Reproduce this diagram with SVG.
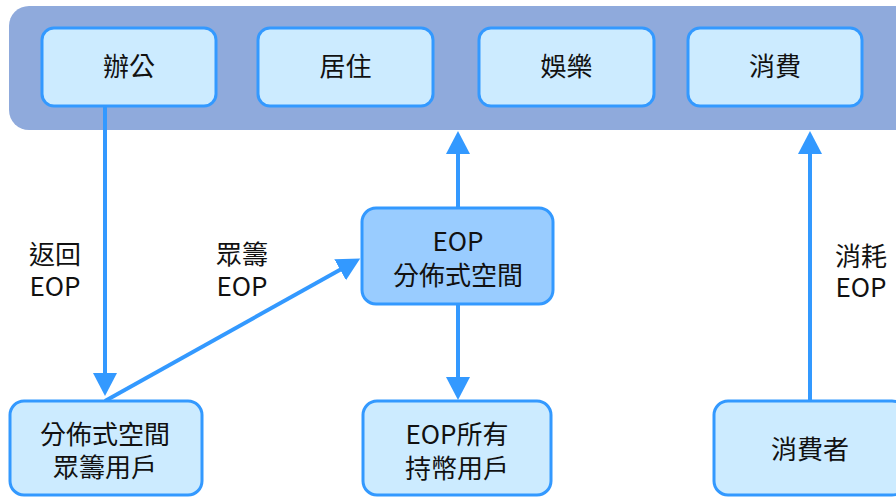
<svg xmlns="http://www.w3.org/2000/svg" width="896" height="497" viewBox="0 0 896 497">
<defs>
<style>
.box{fill:#CCEBFF;stroke:#3399FF;stroke-width:3}
.hub{fill:#99CCFF;stroke:#3399FF;stroke-width:3}
.t{font-family:"Noto Sans CJK TC","Noto Sans CJK SC",sans-serif;font-size:26px;fill:#111;text-anchor:middle;dominant-baseline:central}
.c{stroke:#3399FF;stroke-width:4;fill:none}
</style>
<marker id="ah" markerUnits="userSpaceOnUse" markerWidth="24" markerHeight="26" viewBox="0 -13 24 26" refX="1" refY="0" orient="auto">
<path d="M0,-12 L23,0 L0,12 z" fill="#3399FF"/>
</marker>
</defs>
<rect x="0" y="0" width="896" height="497" fill="#FFFFFF"/>
<g id="band">
<rect x="9" y="6" width="905" height="124" rx="20" fill="#8FAADC"/>
</g>
<g id="n-office"><rect class="box" x="42" y="28" width="174" height="78" rx="12"/><text class="t" x="129" y="64.5">辦公</text></g>
<g id="n-living"><rect class="box" x="258" y="28" width="175" height="78" rx="12"/><text class="t" x="345.5" y="64.5">居住</text></g>
<g id="n-ent"><rect class="box" x="479" y="28" width="175" height="78" rx="12"/><text class="t" x="566.5" y="64.5">娛樂</text></g>
<g id="n-consume"><rect class="box" x="688" y="28" width="174" height="78" rx="12"/><text class="t" x="775" y="64.5">消費</text></g>
<g id="connectors">
<line class="c" x1="105" y1="106" x2="105" y2="374" marker-end="url(#ah)"/>
<line class="c" x1="105" y1="401" x2="341" y2="269.2" marker-end="url(#ah)"/>
<line class="c" x1="458" y1="208" x2="458" y2="153" marker-end="url(#ah)"/>
<line class="c" x1="458" y1="304" x2="458" y2="378" marker-end="url(#ah)"/>
<line class="c" x1="810" y1="401" x2="810" y2="153" marker-end="url(#ah)"/>
</g>
<g id="labels">
<text class="t" x="55" y="252.5">返回<tspan x="55" dy="31">EOP</tspan></text>
<text class="t" x="242" y="252.5">眾籌<tspan x="242" dy="31">EOP</tspan></text>
<text class="t" x="861" y="254.5">消耗<tspan x="861" dy="30">EOP</tspan></text>
</g>
<g id="n-hub"><rect class="hub" x="362" y="208" width="191" height="96" rx="14"/><text class="t" x="458" y="239.5">EOP<tspan x="458" dy="33">分佈式空間</tspan></text></g>
<g id="n-crowd"><rect class="box" x="10" y="401" width="192" height="94" rx="14"/><text class="t" x="105" y="432.5">分佈式空間<tspan x="105" dy="32">眾籌用戶</tspan></text></g>
<g id="n-holders"><rect class="box" x="363" y="401" width="188" height="94" rx="14"/><text class="t" x="457" y="432.5">EOP所有<tspan x="457" dy="33">持幣用戶</tspan></text></g>
<g id="n-consumer"><rect class="box" x="714" y="401" width="192" height="94" rx="14"/><text class="t" x="810" y="447.5">消費者</text></g>
</svg>
